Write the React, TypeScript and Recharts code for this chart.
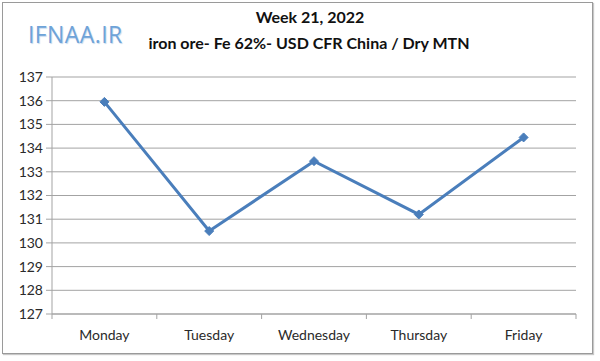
import { CartesianGrid, Line, LineChart, XAxis, YAxis } from "recharts";

const DAYS = ["Monday", "Tuesday", "Wednesday", "Thursday", "Friday"];
const PRICES = [135.95, 130.5, 133.45, 131.2, 134.45];
const Y_TICKS = [127, 128, 129, 130, 131, 132, 133, 134, 135, 136, 137];
// category boundaries (tick marks) and centres (labels), Excel-style
const X_TICKS = [0, 0.5, 1, 1.5, 2, 2.5, 3, 3.5, 4, 4.5, 5];

const TITLE = "Week 21, 2022";
const SUBTITLE = "iron ore- Fe 62%- USD CFR China / Dry MTN";
const LOGO = "IFNAA.IR";

const FONT = "Lato, 'Open Sans', sans-serif";
const LINE_BLUE = "#4a7ebb";
const GRID = "#a3a3a3";

// diamond marker like Excel's default
function Diamond(props: { cx?: number; cy?: number }) {
  const { cx, cy } = props;
  if (cx == null || cy == null) return null;
  const r = 4.5;
  return (
    <path
      d={`M${cx},${cy - r}L${cx + r},${cy}L${cx},${cy + r}L${cx - r},${cy}Z`}
      fill={LINE_BLUE}
      stroke={LINE_BLUE}
    />
  );
}

function DayTick(props: { x?: number; y?: number; payload?: { value: number } }) {
  const { x = 0, y = 0, payload } = props;
  const v = payload?.value ?? 0;
  if (Number.isInteger(v)) {
    return <line x1={x} x2={x} y1={y} y2={y + 5} stroke={GRID} />;
  }
  return (
    <text
      x={x}
      y={y + 26}
      textAnchor="middle"
      fontSize={14}
      fill="#2a2a2a"
      fontFamily={FONT}
    >
      {DAYS[Math.floor(v)]}
    </text>
  );
}

export default function App() {
  const rows = DAYS.map((d, i) => ({ day: d, pos: i + 0.5, price: PRICES[i] }));

  return (
    <div
      style={{
        position: "absolute",
        left: 0,
        top: 0,
        width: 600,
        height: 361,
        background: "#fff",
        fontFamily: FONT,
      }}
    >
      <div
        style={{
          position: "absolute",
          left: 2,
          top: 2,
          width: 589,
          height: 350,
          border: "1px solid #9a9a9a",
          boxShadow: "1px 1px 1px #c8c8c8",
        }}
      />
      <div
        style={{
          position: "absolute",
          left: 0,
          width: 620,
          top: 7,
          textAlign: "center",
          fontSize: 16,
          fontWeight: 700,
          color: "#111",
        }}
      >
        {TITLE}
      </div>
      <div
        style={{
          position: "absolute",
          left: 0,
          width: 618,
          top: 33,
          textAlign: "center",
          fontSize: 16,
          fontWeight: 700,
          color: "#111",
        }}
      >
        {SUBTITLE}
      </div>
      <div
        style={{
          position: "absolute",
          left: 28,
          top: 18,
          fontSize: 23,
          fontFamily: "'Open Sans', sans-serif",
          color: "#6ea3d8",
          textShadow: "1px 1px 1px #c5d9ee",
          letterSpacing: 0.4,
        }}
      >
        {LOGO}
      </div>

      <div style={{ position: "absolute", left: 0, top: 0 }}>
        <LineChart
          width={600}
          height={361}
          data={rows}
          margin={{ top: 77, right: 24, left: 12, bottom: 17 }}
        >
          <CartesianGrid vertical={false} stroke={GRID} strokeWidth={1} />
          <XAxis
            type="number"
            dataKey="pos"
            domain={[0, 5]}
            ticks={X_TICKS}
            interval={0}
            axisLine={{ stroke: GRID }}
            tickLine={false}
            tickSize={0}
            tickMargin={0}
            tick={<DayTick />}
            height={30}
          />
          <YAxis
            domain={[127, 137]}
            ticks={Y_TICKS}
            interval={0}
            width={40}
            axisLine={{ stroke: GRID }}
            tickLine={{ stroke: GRID }}
            tickSize={6}
            tickMargin={3}
            tick={{ fontSize: 14, fill: "#2a2a2a", fontFamily: FONT }}
          />
          <Line
            type="linear"
            dataKey="price"
            stroke={LINE_BLUE}
            strokeWidth={3}
            dot={<Diamond />}
            activeDot={false}
            isAnimationActive={false}
          />
        </LineChart>
      </div>
    </div>
  );
}
